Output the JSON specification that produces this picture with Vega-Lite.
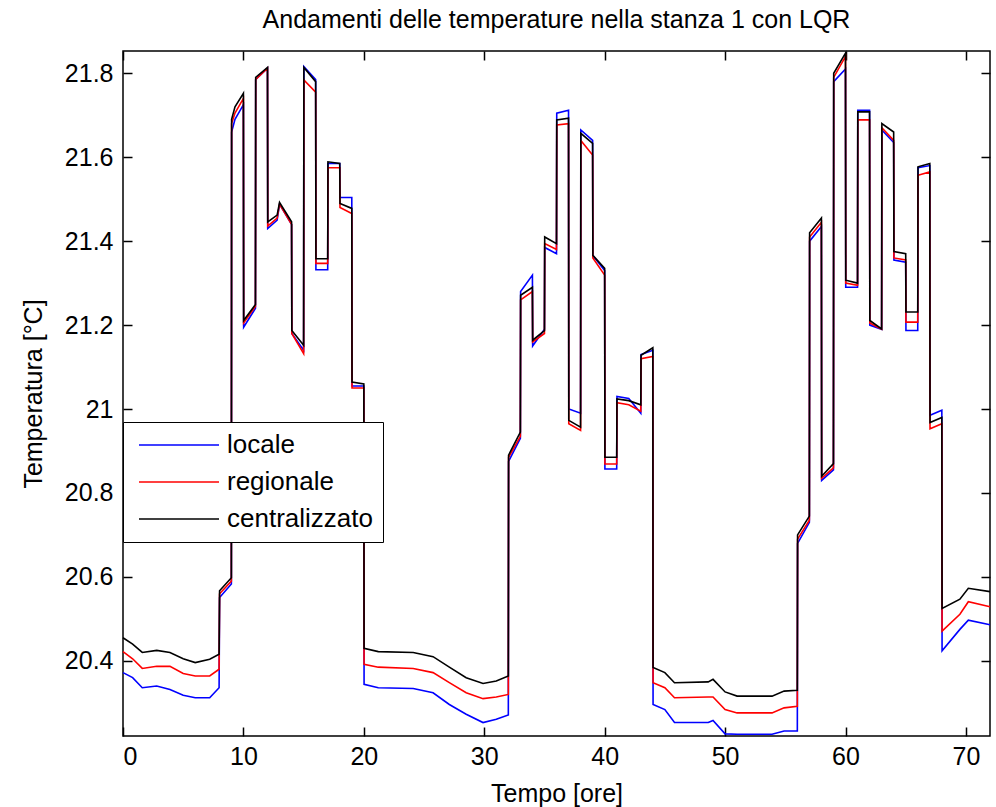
{
  "$schema": "https://vega.github.io/schema/vega-lite/v6.json",
  "autosize": "none",
  "width": 867,
  "height": 685,
  "padding": {"left": 123, "top": 51, "right": 6, "bottom": 71},
  "background": "white",
  "config": {
    "font": "Liberation Sans",
    "view": {"stroke": "black", "strokeWidth": 1.5},
    "axis": {"grid": false, "domain": false, "labelColor": "black", "titleColor": "black", "tickColor": "black", "labelFont": "Liberation Sans", "titleFont": "Liberation Sans", "labelFontSize": 25, "titleFontSize": 25, "titleFontWeight": "normal", "tickWidth": 1.5}
  },
  "title": {"text": "Andamenti delle temperature nella stanza 1 con LQR", "fontSize": 25, "fontWeight": "normal", "font": "Liberation Sans", "color": "black", "offset": 17, "anchor": "middle"},
  "datasets": {
    "temps": [
      {"t":0,"locale":20.372,"regionale":20.422,"centralizzato":20.455},
      {"t":0.8,"locale":20.36,"regionale":20.405,"centralizzato":20.44},
      {"t":1.6,"locale":20.336,"regionale":20.382,"centralizzato":20.42},
      {"t":2.8,"locale":20.34,"regionale":20.387,"centralizzato":20.425},
      {"t":3.9,"locale":20.332,"regionale":20.387,"centralizzato":20.42},
      {"t":5.0,"locale":20.318,"regionale":20.37,"centralizzato":20.405},
      {"t":6.0,"locale":20.312,"regionale":20.364,"centralizzato":20.396},
      {"t":7.2,"locale":20.312,"regionale":20.364,"centralizzato":20.404},
      {"t":7.98,"locale":20.336,"regionale":20.38,"centralizzato":20.416},
      {"t":8.02,"locale":20.551,"regionale":20.56,"centralizzato":20.567},
      {"t":9.0,"locale":20.583,"regionale":20.59,"centralizzato":20.598},
      {"t":9.02,"locale":21.66,"regionale":21.68,"centralizzato":21.69},
      {"t":9.3,"locale":21.69,"regionale":21.705,"centralizzato":21.72},
      {"t":10,"locale":21.725,"regionale":21.74,"centralizzato":21.752},
      {"t":10.02,"locale":21.195,"regionale":21.205,"centralizzato":21.211},
      {"t":11,"locale":21.24,"regionale":21.245,"centralizzato":21.249},
      {"t":11.02,"locale":21.785,"regionale":21.785,"centralizzato":21.79},
      {"t":12,"locale":21.812,"regionale":21.812,"centralizzato":21.814},
      {"t":12.02,"locale":21.43,"regionale":21.436,"centralizzato":21.446},
      {"t":12.8,"locale":21.45,"regionale":21.455,"centralizzato":21.462},
      {"t":13.0,"locale":21.488,"regionale":21.488,"centralizzato":21.492},
      {"t":14,"locale":21.44,"regionale":21.44,"centralizzato":21.446},
      {"t":14.02,"locale":21.18,"regionale":21.18,"centralizzato":21.187},
      {"t":15,"locale":21.14,"regionale":21.132,"centralizzato":21.152},
      {"t":15.02,"locale":21.816,"regionale":21.784,"centralizzato":21.814},
      {"t":16,"locale":21.785,"regionale":21.755,"centralizzato":21.78},
      {"t":16.02,"locale":21.332,"regionale":21.347,"centralizzato":21.358},
      {"t":17,"locale":21.332,"regionale":21.347,"centralizzato":21.358},
      {"t":17.02,"locale":21.585,"regionale":21.575,"centralizzato":21.589},
      {"t":18,"locale":21.585,"regionale":21.575,"centralizzato":21.585},
      {"t":18.02,"locale":21.504,"regionale":21.48,"centralizzato":21.49},
      {"t":19,"locale":21.504,"regionale":21.466,"centralizzato":21.478},
      {"t":19.02,"locale":21.055,"regionale":21.05,"centralizzato":21.064},
      {"t":20,"locale":21.055,"regionale":21.05,"centralizzato":21.06},
      {"t":20.02,"locale":20.344,"regionale":20.392,"centralizzato":20.43},
      {"t":21.2,"locale":20.336,"regionale":20.385,"centralizzato":20.422},
      {"t":24.1,"locale":20.334,"regionale":20.382,"centralizzato":20.42},
      {"t":25.75,"locale":20.324,"regionale":20.372,"centralizzato":20.41},
      {"t":27.1,"locale":20.296,"regionale":20.348,"centralizzato":20.385},
      {"t":28.5,"locale":20.273,"regionale":20.324,"centralizzato":20.36},
      {"t":29.9,"locale":20.253,"regionale":20.31,"centralizzato":20.346},
      {"t":31.0,"locale":20.261,"regionale":20.314,"centralizzato":20.352},
      {"t":32.0,"locale":20.271,"regionale":20.32,"centralizzato":20.364},
      {"t":32.02,"locale":20.875,"regionale":20.885,"centralizzato":20.89},
      {"t":33,"locale":20.93,"regionale":20.935,"centralizzato":20.945},
      {"t":33.02,"locale":21.28,"regionale":21.26,"centralizzato":21.271},
      {"t":34,"locale":21.319,"regionale":21.28,"centralizzato":21.29},
      {"t":34.02,"locale":21.15,"regionale":21.16,"centralizzato":21.164},
      {"t":35,"locale":21.19,"regionale":21.18,"centralizzato":21.187},
      {"t":35.02,"locale":21.385,"regionale":21.394,"centralizzato":21.41},
      {"t":36,"locale":21.37,"regionale":21.38,"centralizzato":21.394},
      {"t":36.02,"locale":21.705,"regionale":21.677,"centralizzato":21.689},
      {"t":37,"locale":21.712,"regionale":21.68,"centralizzato":21.693},
      {"t":37.02,"locale":21.0,"regionale":20.965,"centralizzato":20.973},
      {"t":38,"locale":20.99,"regionale":20.949,"centralizzato":20.957},
      {"t":38.02,"locale":21.665,"regionale":21.64,"centralizzato":21.657},
      {"t":39,"locale":21.64,"regionale":21.605,"centralizzato":21.633},
      {"t":39.02,"locale":21.366,"regionale":21.36,"centralizzato":21.366},
      {"t":40,"locale":21.33,"regionale":21.319,"centralizzato":21.335},
      {"t":40.02,"locale":20.857,"regionale":20.869,"centralizzato":20.885},
      {"t":41,"locale":20.857,"regionale":20.869,"centralizzato":20.885},
      {"t":41.02,"locale":21.03,"regionale":21.015,"centralizzato":21.024},
      {"t":42,"locale":21.025,"regionale":21.01,"centralizzato":21.02},
      {"t":43,"locale":20.99,"regionale":20.995,"centralizzato":21.01},
      {"t":43.02,"locale":21.13,"regionale":21.12,"centralizzato":21.128},
      {"t":44,"locale":21.14,"regionale":21.125,"centralizzato":21.146},
      {"t":44.02,"locale":20.296,"regionale":20.348,"centralizzato":20.384},
      {"t":45.0,"locale":20.284,"regionale":20.336,"centralizzato":20.372},
      {"t":45.8,"locale":20.253,"regionale":20.312,"centralizzato":20.348},
      {"t":48.6,"locale":20.253,"regionale":20.314,"centralizzato":20.35},
      {"t":49.0,"locale":20.258,"regionale":20.314,"centralizzato":20.356},
      {"t":50,"locale":20.226,"regionale":20.284,"centralizzato":20.326},
      {"t":51,"locale":20.225,"regionale":20.276,"centralizzato":20.316},
      {"t":53.9,"locale":20.225,"regionale":20.276,"centralizzato":20.316},
      {"t":54.9,"locale":20.233,"regionale":20.288,"centralizzato":20.328},
      {"t":56,"locale":20.233,"regionale":20.292,"centralizzato":20.33},
      {"t":56.02,"locale":20.68,"regionale":20.69,"centralizzato":20.7},
      {"t":57,"locale":20.73,"regionale":20.735,"centralizzato":20.745},
      {"t":57.02,"locale":21.4,"regionale":21.41,"centralizzato":21.42},
      {"t":58,"locale":21.435,"regionale":21.445,"centralizzato":21.455},
      {"t":58.02,"locale":20.83,"regionale":20.835,"centralizzato":20.84},
      {"t":59,"locale":20.855,"regionale":20.86,"centralizzato":20.87},
      {"t":59.02,"locale":21.78,"regionale":21.79,"centralizzato":21.8},
      {"t":60,"locale":21.81,"regionale":21.84,"centralizzato":21.848},
      {"t":60.02,"locale":21.29,"regionale":21.3,"centralizzato":21.307},
      {"t":61,"locale":21.29,"regionale":21.295,"centralizzato":21.3},
      {"t":61.02,"locale":21.712,"regionale":21.689,"centralizzato":21.708},
      {"t":62,"locale":21.712,"regionale":21.689,"centralizzato":21.708},
      {"t":62.02,"locale":21.2,"regionale":21.205,"centralizzato":21.211},
      {"t":63,"locale":21.19,"regionale":21.19,"centralizzato":21.191},
      {"t":63.02,"locale":21.665,"regionale":21.67,"centralizzato":21.68},
      {"t":64,"locale":21.635,"regionale":21.64,"centralizzato":21.66},
      {"t":64.02,"locale":21.355,"regionale":21.36,"centralizzato":21.375},
      {"t":65,"locale":21.35,"regionale":21.355,"centralizzato":21.37},
      {"t":65.02,"locale":21.187,"regionale":21.207,"centralizzato":21.231},
      {"t":66,"locale":21.187,"regionale":21.207,"centralizzato":21.231},
      {"t":66.02,"locale":21.575,"regionale":21.557,"centralizzato":21.577},
      {"t":67,"locale":21.58,"regionale":21.565,"centralizzato":21.585},
      {"t":67.02,"locale":20.985,"regionale":20.953,"centralizzato":20.968},
      {"t":68,"locale":20.997,"regionale":20.965,"centralizzato":20.98},
      {"t":68.02,"locale":20.424,"regionale":20.471,"centralizzato":20.525},
      {"t":69.5,"locale":20.475,"regionale":20.511,"centralizzato":20.547},
      {"t":70.2,"locale":20.497,"regionale":20.541,"centralizzato":20.573},
      {"t":72,"locale":20.486,"regionale":20.529,"centralizzato":20.565}
    ]
  },
  "data": {"name": "temps"},
  "resolve": {"axis": {"x": "independent", "y": "independent"}},
  "layer": [
    {
      "mark": {"type": "line", "strokeWidth": 1.6, "interpolate": "linear"},
      "encoding": {
        "x": {"field": "t", "type": "quantitative", "scale": {"domain": [0, 72], "nice": false, "zero": false},
              "axis": {"orient": "bottom", "values": [0,10,20,30,40,50,60,70], "format": "d", "tickSize": -9, "labelPadding": 17, "title": "Tempo [ore]", "titlePadding": 12}},
        "y": {"field": "locale", "type": "quantitative", "scale": {"domain": [20.221, 21.853], "nice": false, "zero": false},
              "axis": {"orient": "left", "values": [20.4,20.6,20.8,21,21.2,21.4,21.6,21.8], "format": ".3~r", "tickSize": -9, "labelPadding": 19, "title": "Temperatura [°C]", "titlePadding": 18}},
        "color": {"datum": "locale", "type": "nominal", "scale": {"domain": ["locale","regionale","centralizzato"], "range": ["#0000ff","#ff0000","#000000"]},
                  "legend": {"orient": "none", "legendX": 0, "legendY": 371, "title": null, "strokeColor": "black", "fillColor": "white", "padding": 10, "symbolType": "M-1.4,0H14.6", "symbolSize": 100, "symbolStrokeWidth": 1.6, "labelFontSize": 26, "labelFont": "Liberation Sans", "labelColor": "black", "labelOffset": 68, "rowPadding": 11}}
      }
    },
    {
      "mark": {"type": "line", "strokeWidth": 1.6},
      "encoding": {
        "x": {"field": "t", "type": "quantitative", "axis": {"orient": "top", "values": [0,10,20,30,40,50,60,70], "labels": false, "title": null, "tickSize": -9}},
        "y": {"field": "regionale", "type": "quantitative", "axis": {"orient": "right", "values": [20.4,20.6,20.8,21,21.2,21.4,21.6,21.8], "labels": false, "title": null, "tickSize": -9}},
        "color": {"datum": "regionale", "type": "nominal"}
      }
    },
    {
      "mark": {"type": "line", "strokeWidth": 1.6},
      "encoding": {
        "x": {"field": "t", "type": "quantitative", "axis": null},
        "y": {"field": "centralizzato", "type": "quantitative", "axis": null},
        "color": {"datum": "centralizzato", "type": "nominal"}
      }
    }
  ]
}
